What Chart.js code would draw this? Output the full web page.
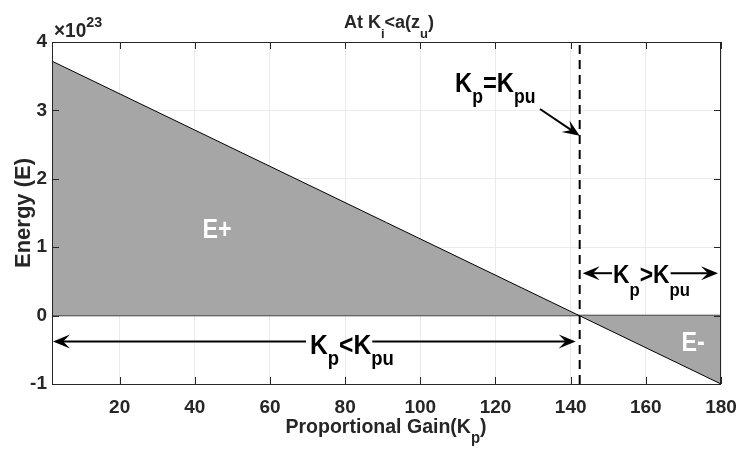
<!DOCTYPE html>
<html>
<head>
<meta charset="utf-8">
<script src="https://cdn.jsdelivr.net/npm/chart.js@4"></script>
<style>
  html, body { margin: 0; padding: 0; background: #fff; }
  #wrap { width: 738px; height: 450px; }
</style>
</head>
<body>
<div id="wrap"><canvas id="energy-chart"></canvas></div>
<script>
const FONT = '"Liberation Sans", Arial, sans-serif';

// data (energy in units of 1e23)
const kpValues = [2, 180];
const energyValues = [3.72, -1.0];
const kpuValue = 142.4;
const xTicks = [20, 40, 60, 80, 100, 120, 140, 160, 180];
const yTicks = [-1, 0, 1, 2, 3, 4];
const xRange = [2, 180];
const yRange = [-1, 4];

const energyPoints = kpValues.map((k, i) => ({ x: k, y: energyValues[i] }));

// draws text with subscripts / superscripts, horizontally squeezed like a narrow font
function richText(ctx, segs, x, y, size, opts) {
  const o = Object.assign({ align: "left", color: "#000", sx: 0.88, sub: 0.42, sup: 0.45, dry: false }, opts);
  let w = 0;
  const parts = segs.map(([t, kind]) => {
    const s = kind === "n" ? size : Math.round(size * 0.74);
    ctx.font = "bold " + s + "px " + FONT;
    const pw = ctx.measureText(t).width;
    w += pw;
    return { t, kind, s, pw };
  });
  const W = w * o.sx;
  if (o.dry) return W;
  const x0 = o.align === "center" ? x - W / 2 : o.align === "right" ? x - W : x;
  ctx.save();
  ctx.translate(x0, y);
  ctx.scale(o.sx, 1);
  ctx.fillStyle = o.color;
  ctx.textBaseline = "alphabetic";
  ctx.textAlign = "left";
  let cx = 0;
  parts.forEach((p) => {
    ctx.font = "bold " + p.s + "px " + FONT;
    let dy = 0;
    if (p.kind === "sub") dy = size * o.sub;
    if (p.kind === "sup") dy = -size * o.sup;
    ctx.fillText(p.t, cx, dy);
    cx += p.pw;
  });
  ctx.restore();
  return W;
}

function arrow(ctx, x1, y1, x2, y2) {
  const a = Math.atan2(y2 - y1, x2 - x1);
  const c = Math.cos(a), s = Math.sin(a);
  ctx.save();
  ctx.strokeStyle = "#000";
  ctx.fillStyle = "#000";
  ctx.lineWidth = 2;
  ctx.beginPath();
  ctx.moveTo(x1, y1);
  ctx.lineTo(x2 - c * 6, y2 - s * 6);
  ctx.stroke();
  const L = 17, H = 7;
  ctx.beginPath();
  ctx.moveTo(x2, y2);
  ctx.lineTo(x2 - L * c + H * s, y2 - L * s - H * c);
  ctx.lineTo(x2 - L * 0.6 * c, y2 - L * 0.6 * s);
  ctx.lineTo(x2 - L * c - H * s, y2 - L * s + H * c);
  ctx.closePath();
  ctx.fill();
  ctx.restore();
}

// frame, inward ticks, titles and annotations
const decorPlugin = {
  id: "decor",
  afterDatasetsDraw(chart) {
    const { ctx, chartArea: a, scales } = chart;
    const xs = scales.x, ys = scales.y;
    ctx.save();
    ctx.strokeStyle = "#262626";
    ctx.lineWidth = 1;
    ctx.strokeRect(a.left + 0.5, a.top + 0.5, a.right - a.left - 1, a.bottom - a.top);
    ctx.beginPath();
    xTicks.forEach((v) => {
      const px = Math.round(xs.getPixelForValue(v)) + 0.5;
      ctx.moveTo(px, a.bottom); ctx.lineTo(px, a.bottom - 7);
      ctx.moveTo(px, a.top); ctx.lineTo(px, a.top + 7);
    });
    yTicks.forEach((v) => {
      const py = Math.round(ys.getPixelForValue(v)) + 0.5;
      ctx.moveTo(a.left, py); ctx.lineTo(a.left + 7, py);
      ctx.moveTo(a.right, py); ctx.lineTo(a.right - 7, py);
    });
    ctx.stroke();
    ctx.restore();

    const dark = "#262626";
    // title
    richText(ctx, [["At K", "n"], ["i", "sub"], ["<a(z", "n"], ["u", "sub"], [")", "n"]],
      389, 28, 18, { align: "center", color: dark, sx: 1.0, sub: 0.55 });
    // exponent
    richText(ctx, [["\u00d710", "n"], ["23", "sup"]], a.left + 2, 37, 20, { color: dark, sx: 0.95, sup: 0.5 });
    // axis titles
    richText(ctx, [["Proportional Gain(K", "n"], ["p", "sub"], [")", "n"]],
      386, 433, 21, { align: "center", color: dark, sx: 0.93, sub: 0.48 });
    ctx.save();
    ctx.translate(30, (a.top + a.bottom) / 2);
    ctx.rotate(-Math.PI / 2);
    richText(ctx, [["Energy (E)", "n"]], 0, 0, 22, { align: "center", color: dark, sx: 1.0 });
    ctx.restore();

    // region labels
    richText(ctx, [["E+", "n"]], 217, 238, 28, { align: "center", color: "#fff", sx: 0.83 });
    richText(ctx, [["E-", "n"]], 693, 351, 28, { align: "center", color: "#fff", sx: 0.83 });

    // K_p = K_pu with pointer
    const xk = xs.getPixelForValue(kpuValue);
    richText(ctx, [["K", "n"], ["p", "sub"], ["=K", "n"], ["pu", "sub"]], 455, 92, 27, { sub: 0.42 });
    arrow(ctx, 540, 109, xk, ys.getPixelForValue(2.63));

    // K_p < K_pu
    const yL = ys.getPixelForValue(-0.38);
    const segL = [["K", "n"], ["p", "sub"], ["<K", "n"], ["pu", "sub"]];
    const xL = 310;
    richText(ctx, segL, xL, yL + 12, 28, {});
    const wFirst = richText(ctx, [["K", "n"], ["p", "sub"], ["<K", "n"]], 0, 0, 28, { dry: true });
    arrow(ctx, xL - 4, yL, a.left + 1, yL);
    arrow(ctx, xL + wFirst + 1, yL, xk - 4, yL);

    // K_p > K_pu
    const yR = ys.getPixelForValue(0.62);
    const segR = [["K", "n"], ["p", "sub"], [">K", "n"], ["pu", "sub"]];
    const xR = 613;
    richText(ctx, segR, xR, yR + 10, 26, { sub: 0.48 });
    const wR1 = richText(ctx, [["K", "n"], ["p", "sub"], [">K", "n"]], 0, 0, 26, { dry: true, sub: 0.48 });
    arrow(ctx, xR - 1, yR, xk + 3, yR);
    arrow(ctx, xR + wR1 + 1, yR, a.right - 3, yR);
  }
};

new Chart(document.getElementById("energy-chart"), {
  type: "line",
  data: {
    datasets: [
      {
        label: "Energy",
        data: energyPoints,
        borderColor: "#000",
        borderWidth: 1,
        backgroundColor: "#a6a6a6",
        fill: "origin",
        pointRadius: 0,
        tension: 0,
      },
      {
        label: "zero",
        data: [{ x: xRange[0], y: 0 }, { x: xRange[1], y: 0 }],
        borderColor: "#262626",
        borderWidth: 1.5,
        fill: false,
        pointRadius: 0,
      },
      {
        label: "Kpu",
        data: [{ x: kpuValue, y: yRange[0] }, { x: kpuValue, y: yRange[1] }],
        borderColor: "#000",
        borderWidth: 2,
        borderDash: [9, 6],
        fill: false,
        pointRadius: 0,
      },
    ],
  },
  options: {
    responsive: true,
    maintainAspectRatio: false,
    animation: false,
    layout: { padding: { top: 42, right: 17, left: 0, bottom: 0 } },
    scales: {
      x: {
        type: "linear",
        min: xRange[0],
        max: xRange[1],
        afterBuildTicks: (s) => { s.ticks = xTicks.map((v) => ({ value: v })); },
        afterFit: (s) => { s.height = 66; s.paddingLeft = 0; s.paddingRight = 0; },
        grid: { color: "#ebebeb", drawTicks: false },
        border: { display: false },
        ticks: { color: "#262626", font: { family: FONT, size: 19, weight: "bold" }, padding: 12, maxRotation: 0 },
      },
      y: {
        type: "linear",
        min: yRange[0],
        max: yRange[1],
        afterBuildTicks: (s) => { s.ticks = yTicks.map((v) => ({ value: v })); },
        afterFit: (s) => { s.width = 52; s.paddingTop = 0; s.paddingBottom = 0; },
        grid: { color: "#ebebeb", drawTicks: false },
        border: { display: false },
        ticks: { color: "#262626", font: { family: FONT, size: 19, weight: "bold" }, padding: 5 },
      },
    },
    plugins: {
      legend: { display: false },
      tooltip: { enabled: false },
    },
  },
  plugins: [decorPlugin],
});
</script>
</body>
</html>
